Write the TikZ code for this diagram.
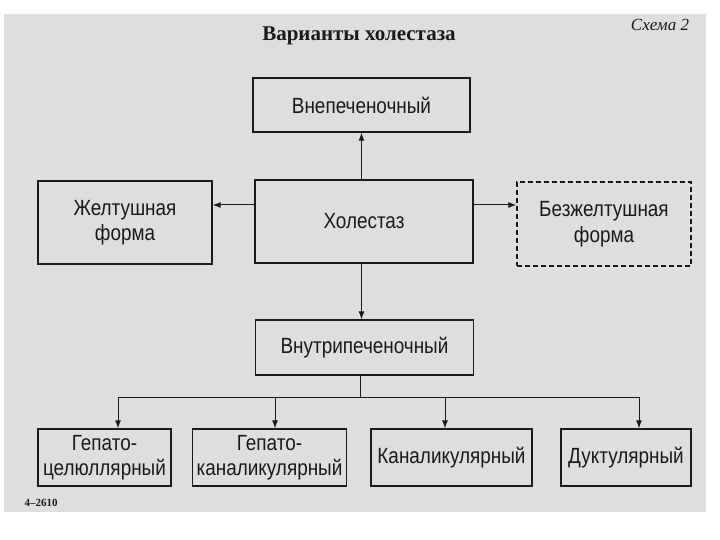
\documentclass[tikz,border=0pt]{standalone}
\usepackage{fontspec}
\setmainfont{Liberation Sans}[FakeStretch=0.86]
\newfontfamily\titlefont{Liberation Serif}
\usetikzlibrary{arrows.meta}
\definecolor{ink}{HTML}{1A1A1A}
\definecolor{paper}{HTML}{DEDEDE}
\begin{document}
\begin{tikzpicture}[x=1pt,y=-1pt,
  blk/.style={draw=ink, line width=1.3pt, inner sep=0pt, align=center, text=ink, font=\fontsize{22}{25.5}\selectfont},
  dblk/.style={blk, dash pattern=on 5pt off 3pt},
  conn/.style={draw=ink, line width=1pt},
  arr/.style={conn, -{Latex[length=8pt,width=6pt]}}]
\useasboundingbox (0,0) rectangle (720,540);
\fill[white] (0,0) rectangle (720,540);
\fill[paper] (4,14) rectangle (706,512);

\node[font=\titlefont\bfseries\fontsize{21}{24}\selectfont, text=ink] (title) at (359,36) {Варианты холестаза};
\node[font=\titlefont\itshape\fontsize{17}{20}\selectfont, text=ink] (sch) at (660,25) {Схема 2};
\node[font=\titlefont\bfseries\fontsize{11}{13}\selectfont, text=ink, anchor=west] (num) at (21,503) {4–2610};

\node[blk, minimum width=217pt, minimum height=54pt] (ext) at (361.5,105) {Внепеченочный};
\node[blk, minimum width=218pt, minimum height=83pt] (hol) at (364,221.5) {Холестаз};
\node[blk, minimum width=174pt, minimum height=83pt] (zh) at (125,222.5) {Желтушная\\форма};
\node[dblk, minimum width=174pt, minimum height=84pt] (bz) at (604,224) {Безжелтушная\\форма};
\node[blk, minimum width=218pt, minimum height=55pt] (vin) at (364.5,347.5) {Внутрипеченочный};

\node[blk, minimum width=133pt, minimum height=57pt] (b1) at (104.5,457.5) {Гепато-\\целюллярный};
\node[blk, minimum width=154pt, minimum height=57pt] (b2) at (269.5,457.5) {Гепато-\\каналикулярный};
\node[blk, minimum width=161pt, minimum height=57pt] (b3) at (451.5,457.5) {Каналикулярный};
\node[blk, minimum width=130pt, minimum height=57pt] (b4) at (626,457.5) {Дуктулярный};

% vertical trunk
\draw[arr] (ext.south |- hol.north) -- (ext.south);
\draw[arr] (ext.south |- hol.south) -- (ext.south |- vin.north);

% side arrows
\coordinate (ly) at ([yshift=16.5pt]hol.west);
\coordinate (ry) at ([yshift=16.5pt]hol.east);
\draw[arr] (ly) -- (ly -| zh.east);
\draw[arr] (ry) -- (ry -| bz.west);

% bus
\coordinate (bus) at (360,397);
\coordinate (t1) at (118,397);
\coordinate (t2) at (275,397);
\coordinate (t3) at (445,397);
\coordinate (t4) at (639,397);
\draw[conn] (vin.south -| bus) -- (bus);
\draw[conn] (t1) -- (t4);
\draw[arr] (t1) -- (t1 |- b1.north);
\draw[arr] (t2) -- (t2 |- b2.north);
\draw[arr] (t3) -- (t3 |- b3.north);
\draw[arr] (t4) -- (t4 |- b4.north);
\end{tikzpicture}
\end{document}
